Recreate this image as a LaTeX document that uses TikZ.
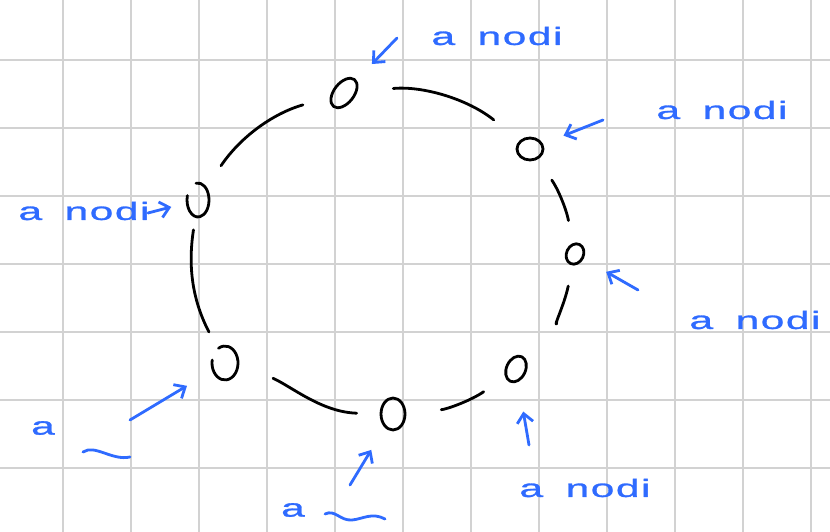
\documentclass[tikz,border=0pt]{standalone}
\usepackage{fontspec}
\usetikzlibrary{arrows.meta,shapes.geometric}
\newfontfamily\manina[FakeStretch=1.7,LetterSpace=6,FakeBold=1.2]{Liberation Sans}
\definecolor{penblue}{HTML}{2F6BFF}
\definecolor{gridgray}{HTML}{D2D2D2}

\begin{document}
\begin{tikzpicture}[x=1pt,y=-1pt,line cap=round,line join=round,
  nodo/.style={ellipse,draw=black,line width=2.8pt,inner sep=0pt,
    minimum width=22pt,minimum height=30pt},
  ring/.style={draw=black,line width=2.8pt},
  nota/.style={text=penblue,inner sep=0pt,font=\manina\fontsize{25}{28}\selectfont},
  segno/.style={draw=penblue,line width=2.8pt},
  freccia/.style={segno,-{Straight Barb[length=9pt,width=16pt,line width=2.8pt]}}]
  \path[use as bounding box] (0,0) rectangle (830,532);
  \fill[white] (0,0) rectangle (830,532);
  % quadretti del foglio
  \foreach \gx in {63,131,...,811} \draw[gridgray,line width=1.6pt] (\gx,0)--(\gx,532);
  \foreach \gy in {60,128,...,468} \draw[gridgray,line width=1.6pt] (0,\gy)--(830,\gy);
  % i sette nodi dell'anello
  \node[nodo,minimum width=20pt,minimum height=34pt,rotate=-38] (n1) at (344,93) {};
  \node[nodo,minimum width=26pt,minimum height=22pt] (n2) at (530,149) {};
  \node[nodo,minimum width=17pt,minimum height=21pt,rotate=-25] (n3) at (575,254) {};
  \node[nodo,minimum width=19pt,minimum height=27pt,rotate=-25] (n4) at (516,369) {};
  \node[nodo,minimum width=24pt,minimum height=32pt] (n5) at (393,414) {};
  \node[nodo,draw=none,minimum width=28pt,minimum height=38pt] (n6) at (225,363) {};
  \node[nodo,draw=none,minimum width=24pt,minimum height=34pt] (n7) at (198,200) {};
  \draw[ring] (n6.center) ++(120:13pt and 17pt) arc[start angle=120,end angle=-190,x radius=13pt,y radius=17pt];
  \draw[ring] (n7.center) ++(100:11pt and 17pt) arc[start angle=100,end angle=-195,x radius=11pt,y radius=17pt];
  % archi tra i nodi
  \draw[ring,shorten <=36pt,shorten >=33pt] (n1) to[bend left=22] (n2);
  \draw[ring,shorten <=25pt,shorten >=23pt] (n2) to[bend left=12] (n3);
  \draw[ring,shorten <=21pt,shorten >=47pt] (n3) to[bend left=15] (n4);
  \draw[ring,shorten <=26pt,shorten >=35pt] (n4) to[bend left=15] (n5);
  \draw[ring,shorten <=23pt,shorten >=36pt] (n5.west) to[out=178,in=-25] (n6.east);
  \draw[ring,shorten <=16pt,shorten >=12pt] (n6) to[bend left=18] (n7);
  \draw[ring,shorten <=25pt,shorten >=28pt] (n7) to[bend left=20] (n1);
  % annotazioni
  \node[nota] (l1) at (497,36) {a\hspace{0.9em}nodi};
  \node[nota] (l2) at (722,110) {a\hspace{0.9em}nodi};
  \node[nota] (l3) at (755,320) {a\hspace{0.9em}nodi};
  \node[nota] (l4) at (585,488) {a\hspace{0.9em}nodi};
  \node[nota] (l7) at (84,211) {a\hspace{0.9em}nodi};
  \node[nota] (l5) at (293,510) {a};
  \node[nota] (l6) at (43,428) {a};
  \draw[segno] (325,514) .. controls (335,509) and (340,521) .. (352,520) .. controls (363,519) and (372,512) .. (385,519);
  \draw[segno] (83,452) .. controls (95,444) and (112,461) .. (130,457);
  \coordinate (t1) at (397,38);
  \coordinate (t2) at (603,120);
  \coordinate (t3) at (638,290);
  \coordinate (t4) at (529,445);
  \coordinate (t5) at (350,485);
  \coordinate (t6) at (130,420);
  \coordinate (t7) at (148,213);
  \draw[freccia,shorten >=22pt] (t1) -- (n1);
  \draw[freccia,shorten >=22pt] (t2) -- (n2);
  \draw[freccia,shorten >=26pt] (t3) -- (n3);
  \draw[freccia,shorten >=30pt] (t4) -- (n4);
  \draw[freccia,shorten >=26pt] (t5) -- (n5);
  \draw[freccia,shorten >=28pt] (t6) -- (n6);
  \draw[freccia,shorten >=14pt] (t7) -- (n7);
\end{tikzpicture}
\end{document}
